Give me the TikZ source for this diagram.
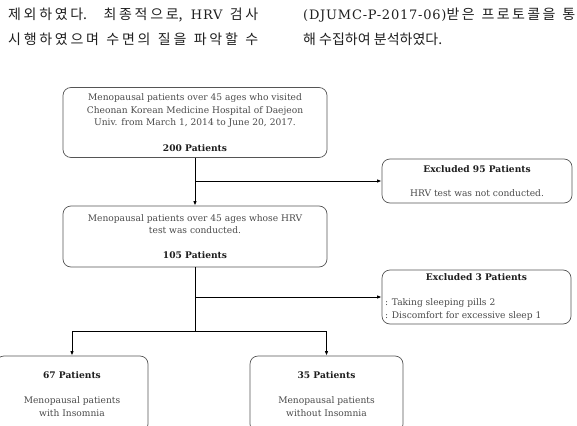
\documentclass[tikz,border=0pt]{standalone}
\usepackage{fontspec}
\setmainfont{DejaVu Serif}
\newfontfamily\krfont{Noto Sans CJK KR}
\newfontfamily\latwide[LetterSpace=6]{DejaVu Serif}
\usetikzlibrary{arrows.meta}
\definecolor{txtgray}{HTML}{4A4A4A}
\definecolor{boldgray}{HTML}{1E1E1E}
\definecolor{boxgray}{HTML}{555555}
\definecolor{krgray}{HTML}{202020}
% small stretchable glue between Hangul syllables, so justified lines spread evenly
\newXeTeXintercharclass\hangulclass
\count255="AC00
\loop
  \XeTeXcharclass\count255=\hangulclass
  \advance\count255 by 1
\ifnum\count255<"D7A4 \repeat
\XeTeXinterchartoks\hangulclass\hangulclass={\hskip 0pt plus 1pt\relax}
\XeTeXinterchartokenstate=1
\begin{document}
\begin{tikzpicture}[x=1pt,y=-1pt,
  box/.style={draw=boxgray, rounded corners=8pt, line width=0.7pt, align=center,
    text=txtgray, font=\fontsize{9.1}{12.5}\selectfont, inner sep=0pt},
  krtext/.style={anchor=base west, inner sep=0pt, text=krgray,
    font=\krfont\fontsize{14}{14}\selectfont},
  conn/.style={draw=black, line width=1pt},
  arr/.style={conn, -{Latex[length=4.5pt,width=3.5pt]}}
]
\useasboundingbox (0,0) rectangle (577,425);
\clip (0,0) rectangle (577,425);
\fill[white] (0,0) rectangle (577,425);

% Korean text of the page
\node[krtext] (k1) at (8,20) {\makebox[250pt][s]{제외하였다. 최종적으로, {\latwide\fontsize{13}{13}\selectfont HRV} 검사}};
\node[krtext] (k2) at (8,45) {\makebox[250pt][s]{시행하였으며 수면의 질을 파악할 수}};
\node[krtext] (k3) at (303,20) {\makebox[272pt][s]{{\latwide\fontsize{13}{13}\selectfont (DJUMC-P-2017-06)}받은 프로토콜을 통}};
\node[krtext] (k4) at (303,45) {해 수집하여 분석하였다.};

% boxes
\node[box, minimum width=264pt, minimum height=70pt] (b1) at (195,122.5)
  {Menopausal patients over 45 ages who visited\\
   Cheonan Korean Medicine Hospital of Daejeon\\
   Univ. from March 1, 2014 to June 20, 2017.\\[13pt]
   \textbf{\color{boldgray}200 Patients}};
\node[box, minimum width=264pt, minimum height=61pt] (b2) at (195,236.5)
  {Menopausal patients over 45 ages whose HRV\\
   test was conducted.\\[12.5pt]
   \textbf{\color{boldgray}105 Patients}};
\node[box, minimum width=190pt, minimum height=44pt] (b3) at (477,181)
  {\textbf{\color{boldgray}Excluded 95 Patients}\\[11.5pt]
   HRV test was not conducted.};
\node[box, align=left, minimum width=189pt, minimum height=54pt] (b4) at (476.5,297)
  {\makebox[183pt]{\textbf{\color{boldgray}Excluded 3 Patients}}\\[12.5pt]
   : Taking sleeping pills 2\\
   : Discomfort for excessive sleep 1};
\node[box, minimum width=152pt, minimum height=76pt] (b5) at (72,394)
  {\textbf{\color{boldgray}67 Patients}\\[12.5pt]
   Menopausal patients\\ with Insomnia};
\node[box, minimum width=153pt, minimum height=76pt] (b6) at (326.5,394)
  {\textbf{\color{boldgray}35 Patients}\\[12.5pt]
   Menopausal patients\\ without Insomnia};

% connectors
\coordinate (j1) at (b1.south |- b3.west);
\coordinate (j2) at (b2.south |- b4.west);
\coordinate (j3) at (195,331);
\draw[arr] (b1.south) -- (b2.north);
\draw[arr] (j1) -- (b3.west);
\draw[conn] (b2.south) -- (j3);
\draw[arr] (j2) -- (b4.west);
\draw[arr] (j3) -| (b5.north);
\draw[arr] (j3) -| (b6.north);
\end{tikzpicture}
\end{document}
